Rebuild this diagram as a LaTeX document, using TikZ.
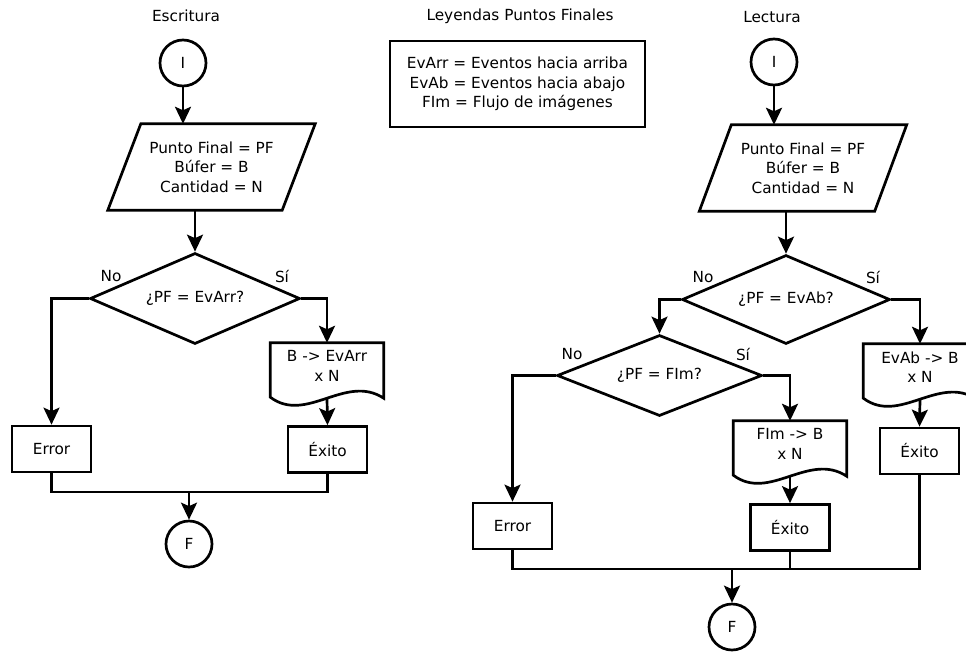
\documentclass[tikz,border=0pt]{standalone}
\usepackage{fontspec}
\setmainfont{DejaVu Sans}
\usetikzlibrary{arrows.meta,shapes.geometric,calc}

\begin{document}
\begin{tikzpicture}[x=1pt,y=-1pt,
  every node/.style={font=\fontsize{15.3}{19.5}\selectfont},
  line/.style={line width=2.7pt},
  arr/.style={line, -{Stealth[length=17pt,width=16pt,inset=3.5pt]}},
  term/.style={circle, draw, line width=2.7pt, minimum size=46pt, inner sep=0pt, fill=white},
  proc/.style={rectangle, draw, line width=2.7pt, minimum width=79pt, minimum height=46pt, inner sep=0pt, fill=white},
  deci/.style={diamond, draw, line width=2.7pt, inner sep=0pt, aspect=2.3, fill=white},
  iobox/.style={rectangle, minimum width=207pt, minimum height=86pt, inner sep=0pt, align=center},
  docbox/.style={rectangle, minimum width=113pt, minimum height=46pt, inner sep=0pt, align=center},
  lbl/.style={inner sep=0pt},
]
\clip (0,0) rectangle (966,651);
\fill[white] (0,0) rectangle (966,651);

% ---------- titles ----------
\node[lbl] (tEsc) at (186,16) {Escritura};
\node[lbl] (tLey) at (520,16) {Leyendas Puntos Finales};
\node[lbl] (tLec) at (772,17) {Lectura};

% ---------- legend ----------
\node[rectangle, draw, line width=2.7pt, minimum width=255pt, minimum height=86pt, align=center, inner sep=0pt] (ley) at (517.5,84)
  {EvArr = Eventos hacia arriba\\EvAb = Eventos hacia abajo\\FIm = Flujo de imágenes};

% ---------- writing flow ----------
\node[term] (i1) at (183,63) {I};
\node[iobox] (p1) at (211.5,167) {Punto Final = PF\\Búfer = B\\Cantidad = N};
\draw[line] ($(p1.north west)+(33,0)$) -- (p1.north east) -- ($(p1.south east)+(-33,0)$) -- (p1.south west) -- cycle;
\node[deci, minimum width=210pt, minimum height=91pt] (q1) at (195,298.5) {¿PF = EvArr?};
\node[lbl] (no1) at (111,276) {No};
\node[lbl] (si1) at (282,276) {Sí};
\node[docbox] (b1) at (327,366) {B -> EvArr\\x N};
\node[proc] (e1) at (51.5,449) {Error};
\node[proc] (s1) at (327.5,449.5) {Éxito};
\node[term] (f1) at (189,544) {F};
\coordinate (j1) at (189,492);

% ---------- reading flow ----------
\node[term] (i2) at (774,62) {I};
\node[iobox] (p2) at (803,168) {Punto Final = PF\\Búfer = B\\Cantidad = N};
\draw[line] ($(p2.north west)+(32,0)$) -- (p2.north east) -- ($(p2.south east)+(-32,0)$) -- (p2.south west) -- cycle;
\node[deci, minimum width=208pt, minimum height=89pt] (q2) at (786,299.5) {¿PF = EvAb?};
\node[lbl] (no2) at (703,277) {No};
\node[lbl] (si2) at (873,277) {Sí};
\node[deci, minimum width=205pt, minimum height=81pt] (q3) at (659.5,375.5) {¿PF = FIm?};
\node[lbl] (no3) at (572,354) {No};
\node[lbl] (si3) at (743,354) {Sí};
\node[docbox] (b2) at (790,444) {FIm -> B\\x N};
\node[docbox] (b3) at (920,367) {EvAb -> B\\x N};
\node[proc] (e2) at (512.5,526) {Error};
\node[proc] (s2) at (790,527.5) {Éxito};
\node[proc] (s3) at (919.5,451) {Éxito};
\node[term] (f2) at (732,627) {F};
\coordinate (j2) at (732,569);

% ---------- document outlines (wavy bottom) ----------
\foreach \d in {b1,b2,b3}{
  \draw[line] (\d.north west) -- (\d.north east) -- ($(\d.south east)+(0,9)$)
    .. controls ($(\d.south east)+(-38,-16)$) and ($(\d.south west)+(36,35)$) ..
    ($(\d.south west)+(0,8)$) -- cycle;
}

% ---------- connectors: writing ----------
\draw[arr] (i1.south) -- (i1.south |- p1.north);
\draw[arr] (q1.north |- p1.south) -- (q1.north);
\draw[arr] (q1.west) -| (e1.north);
\draw[arr] (q1.east) -| (b1.north);
\draw[arr] ($(b1.south)+(0,9)$) -- (s1.north);
\draw[line] (e1.south) |- (j1) -| (s1.south);
\draw[arr] (j1) -- (f1.north);

% ---------- connectors: reading ----------
\draw[arr] (i2.south) -- (i2.south |- p2.north);
\draw[arr] (q2.north |- p2.south) -- (q2.north);
\draw[arr] (q2.west) -| (q3.north);
\draw[arr] (q2.east) -| (b3.north);
\draw[arr] ($(b3.south)+(0,9)$) -- (s3.north);
\draw[arr] (q3.west) -| (e2.north);
\draw[arr] (q3.east) -| (b2.north);
\draw[arr] ($(b2.south)+(0,9)$) -- (s2.north);
\draw[line] (e2.south) |- (s3.south |- j2) -- (s3.south);
\draw[line] (s2.south) -- (s2.south |- j2);
\draw[arr] (j2) -- (f2.north);
\end{tikzpicture}
\end{document}
